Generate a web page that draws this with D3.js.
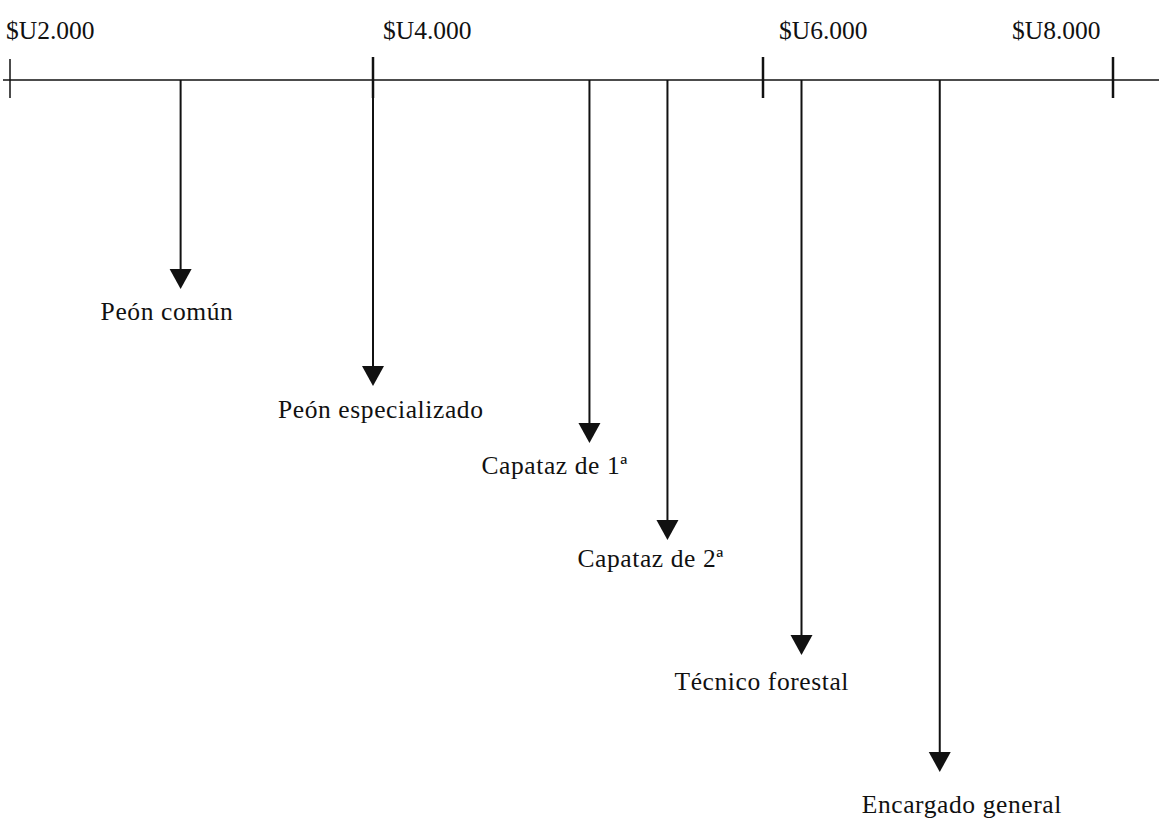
<!DOCTYPE html>
<html>
<head>
<meta charset="utf-8">
<script src="https://cdn.jsdelivr.net/npm/d3@7"></script>
<style>
  html, body { margin: 0; padding: 0; background: #fff; }
  svg { display: block; }
  text { font-family: "Liberation Serif", "Times New Roman", serif; fill: #111; }
</style>
</head>
<body>
<svg id="chart" width="1159" height="823"></svg>
<script>
// ---- data ----
const categories = ["Peón común", "Peón especializado", "Capataz de 1ª", "Capataz de 2ª", "Técnico forestal", "Encargado general"];
const salaries = [2940, 4000, 5110, 5510, 6220, 7010];
const tickValues = [2000, 4000, 6000, 8000];
const tickLabels = ["$U2.000", "$U4.000", "$U6.000", "$U8.000"];

// ---- layout (not data) ----
const axisY = 80;
const arrowTipY = [289, 386, 443, 540, 655, 772];
const labelY = [320, 418, 474, 567, 690, 813];
const labelDx = [-80, -95, -108, -90, -127, -78];
const tickLabelDx = [-4, 10, 16, -101];
const fontSize = 25.5;

const svg = d3.select("#chart");
const x = d3.scaleLinear().domain(tickValues).range([10, 373, 763, 1113]);

// axis line
svg.append("line")
  .attr("x1", 3).attr("x2", 1159)
  .attr("y1", axisY).attr("y2", axisY)
  .attr("stroke", "#111").attr("stroke-width", 1.5);

// ticks
svg.selectAll("line.tick").data(tickValues).enter().append("line")
  .attr("class", "tick")
  .attr("x1", d => x(d)).attr("x2", d => x(d))
  .attr("y1", (d, i) => i === 0 ? 59 : 57)
  .attr("y2", 98)
  .attr("stroke", "#111")
  .attr("stroke-width", (d, i) => i === 0 ? 1.5 : 2.5);

// tick labels
svg.selectAll("text.tl").data(tickValues).enter().append("text")
  .attr("class", "tl")
  .attr("x", (d, i) => x(d) + tickLabelDx[i])
  .attr("y", 39)
  .attr("font-size", fontSize)
  .text((d, i) => tickLabels[i]);

// arrows
const headH = 20, headW = 22;
const g = svg.selectAll("g.arrow").data(categories.map((c, i) => ({c, v: salaries[i], i})))
  .enter().append("g").attr("class", "arrow");

g.append("line")
  .attr("x1", d => x(d.v)).attr("x2", d => x(d.v))
  .attr("y1", d => d.v === 4000 ? 57 : axisY)
  .attr("y2", d => arrowTipY[d.i] - headH + 2)
  .attr("stroke", "#111").attr("stroke-width", 2);

g.append("path")
  .attr("d", d => {
    const cx = x(d.v), ty = arrowTipY[d.i];
    return `M${cx - headW / 2},${ty - headH} L${cx + headW / 2},${ty - headH} L${cx},${ty} Z`;
  })
  .attr("fill", "#111");

g.append("text")
  .attr("x", d => x(d.v) + labelDx[d.i])
  .attr("y", d => labelY[d.i])
  .attr("font-size", fontSize)
  .attr("letter-spacing", 0.6)
  .text(d => d.c);
</script>
</body>
</html>
